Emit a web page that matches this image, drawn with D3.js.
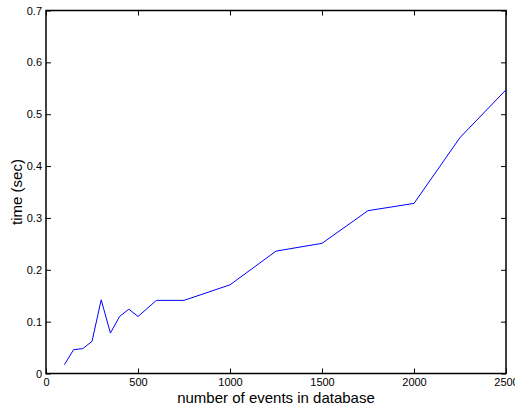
<!DOCTYPE html>
<html>
<head>
<meta charset="utf-8">
<script src="https://cdn.jsdelivr.net/npm/d3@7"></script>
<style>
  body { margin: 0; background: #fff; }
  svg { display: block; }
  text { font-family: "Liberation Sans", Arial, sans-serif; }
</style>
</head>
<body>
<svg></svg>
<script>
var events = [100, 150, 200, 250, 300, 350, 400, 450, 500, 600, 750, 1000, 1250, 1500, 1750, 2000, 2250, 2500];
var times = [0.017, 0.046, 0.048, 0.062, 0.142, 0.078, 0.110, 0.124, 0.110, 0.141, 0.141, 0.171, 0.236, 0.251, 0.314, 0.328, 0.455, 0.547];
var xTicks = [0, 500, 1000, 1500, 2000, 2500];
var yTicks = [0, 0.1, 0.2, 0.3, 0.4, 0.5, 0.6, 0.7];

var W = 515, H = 408;
var pLeft = 46, pRight = 506, pTop = 10.5, pBottom = 373.5;

var svg = d3.select('svg').attr('width', W).attr('height', H);

var x = d3.scaleLinear().domain([0, 2500]).range([pLeft, pRight]);
var y = d3.scaleLinear().domain([0, 0.7]).range([pBottom, pTop]);

// inward ticks on all four sides, matlab style
function styleAxis(g) {
  g.select('.domain').remove();
  g.selectAll('.tick line').attr('stroke', '#000');
  g.selectAll('.tick text').attr('font-size', '11px').attr('fill', '#000');
}

svg.append('g')
  .attr('transform', 'translate(0,' + pBottom + ')')
  .call(d3.axisBottom(x).tickValues(xTicks).tickSize(-5).tickPadding(5).tickFormat(d3.format('d')))
  .call(styleAxis);
svg.append('g')
  .attr('transform', 'translate(0,' + pTop + ')')
  .call(d3.axisTop(x).tickValues(xTicks).tickSize(-5).tickFormat(''))
  .call(styleAxis);
svg.append('g')
  .attr('transform', 'translate(' + pLeft + ',0)')
  .call(d3.axisLeft(y).tickValues(yTicks).tickSize(-5).tickPadding(4).tickFormat(function(d){ return d === 0 ? '0' : d3.format('.1f')(d); }))
  .call(styleAxis);
svg.append('g')
  .attr('transform', 'translate(' + pRight + ',0)')
  .call(d3.axisRight(y).tickValues(yTicks).tickSize(-5).tickFormat(''))
  .call(styleAxis);

svg.append('rect')
  .attr('x', pLeft).attr('y', pTop)
  .attr('width', pRight - pLeft).attr('height', pBottom - pTop)
  .attr('fill', 'none').attr('stroke', '#000').attr('stroke-width', 1.5);

var line = d3.line()
  .x(function(d, i){ return x(events[i]); })
  .y(function(d){ return y(d); });

svg.append('path')
  .datum(times)
  .attr('d', line)
  .attr('fill', 'none')
  .attr('stroke', '#0000ff')
  .attr('stroke-width', 1);

svg.append('text')
  .attr('x', (pLeft + pRight) / 2).attr('y', 403)
  .attr('text-anchor', 'middle')
  .attr('font-size', '15px')
  .text('number of events in database');

svg.append('text')
  .attr('transform', 'translate(22,' + (pTop + pBottom) / 2 + ') rotate(-90)')
  .attr('text-anchor', 'middle')
  .attr('font-size', '15px')
  .text('time (sec)');
</script>
</body>
</html>
